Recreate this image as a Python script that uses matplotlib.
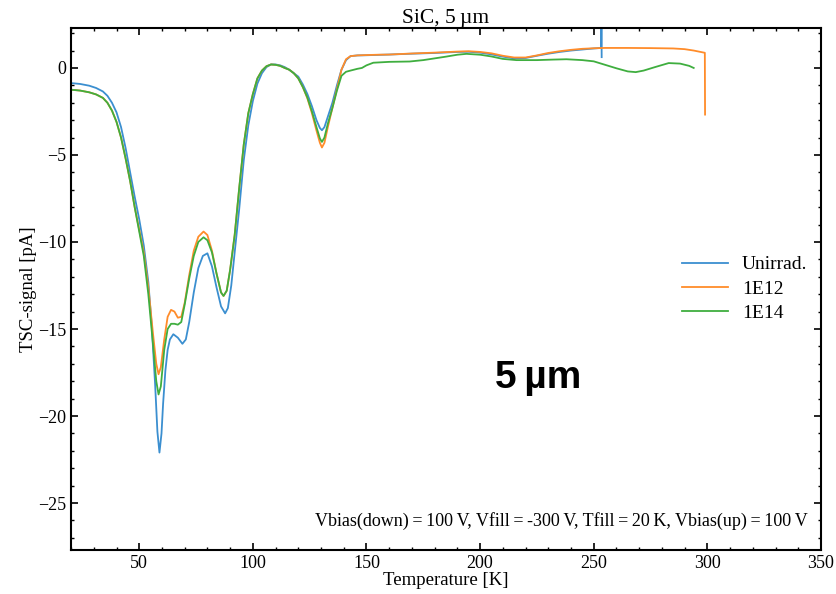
import matplotlib
matplotlib.use("Agg")
import matplotlib.pyplot as plt
from matplotlib.ticker import MultipleLocator

plt.rcParams["font.family"] = ["Liberation Serif", "DejaVu Serif"]
plt.rcParams["mathtext.fontset"] = "stix"

# Unirrad.
t_unirr = [20, 24, 28, 31, 34, 36, 38, 40, 42, 44, 46, 48, 50, 52, 54, 55.5, 57, 58, 58.9, 59.8, 60.5, 61.5, 62.5,
           63.5, 65, 67, 69, 70.5, 72, 74, 76, 78, 80, 82, 84, 86, 87.8, 89, 90.5, 92, 94, 96, 98, 100, 102, 104,
           106, 108, 110, 112, 114, 116, 118, 120, 122, 124, 126, 128, 129.5, 130.4, 131.5, 133, 135, 137, 139,
           141, 143, 146, 150, 155, 160, 170, 180, 190, 195, 200, 205, 210, 215, 220, 225, 230, 235, 240, 245,
           250, 253.3, 253.4, 253.5]
s_unirr = [-0.87, -0.92, -1.02, -1.15, -1.35, -1.6, -2.0, -2.55, -3.4, -4.6, -6.0, -7.4, -8.7, -10.2, -12.3, -14.8,
           -18.2, -20.9, -22.1, -21.0, -19.3, -17.4, -16.2, -15.6, -15.3, -15.5, -15.85, -15.6, -14.6, -12.9,
           -11.5, -10.8, -10.65, -11.4, -12.6, -13.7, -14.1, -13.8, -12.5, -10.6, -8.1, -5.3, -3.3, -1.9, -0.9,
           -0.3, 0.05, 0.2, 0.2, 0.15, 0.05, -0.1, -0.3, -0.5, -0.95, -1.5, -2.2, -3.0, -3.45, -3.58, -3.4, -2.8,
           -2.0, -1.0, -0.1, 0.45, 0.68, 0.72, 0.73, 0.75, 0.77, 0.82, 0.86, 0.92, 0.93, 0.88, 0.78, 0.65, 0.55,
           0.57, 0.7, 0.82, 0.92, 1.0, 1.06, 1.12, 1.15, 3.0, 0.62]

# 1E12
t_1e12 = [20, 24, 28, 31, 34, 36, 38, 40, 42, 44, 46, 48, 50, 52, 54, 56, 57.5, 58.5, 59.5, 61, 62.5, 64, 65.5, 67,
          68.5, 70, 72, 74, 76, 78.3, 80, 82, 84, 86, 87.1, 88.5, 90, 92, 94, 96, 98, 100, 102, 104, 106, 108, 110,
          112, 114, 116, 118, 120, 122, 124, 126, 128, 129.5, 130.4, 131.5, 133, 135, 137, 139, 141, 143, 146,
          150, 155, 160, 170, 180, 190, 195, 200, 205, 210, 215, 220, 225, 230, 235, 240, 245, 250, 255, 265,
          275, 285, 290, 294, 298.9, 299.0]
s_1e12 = [-1.25, -1.3, -1.4, -1.52, -1.72, -2.0, -2.45, -3.1, -4.0, -5.2, -6.5, -8.0, -9.3, -10.6, -12.6, -15.2,
          -17.0, -17.6, -17.2, -15.6, -14.3, -13.9, -14.0, -14.35, -14.3, -13.5, -11.9, -10.5, -9.7, -9.4, -9.6,
          -10.5, -11.8, -12.9, -13.1, -12.8, -11.6, -9.6, -6.9, -4.4, -2.6, -1.5, -0.6, -0.15, 0.1, 0.2, 0.18,
          0.12, 0.0, -0.1, -0.3, -0.6, -1.1, -1.75, -2.6, -3.6, -4.3, -4.57, -4.3, -3.4, -2.3, -1.2, -0.1, 0.5,
          0.68, 0.72, 0.74, 0.76, 0.77, 0.83, 0.88, 0.94, 0.96, 0.92, 0.84, 0.7, 0.6, 0.6, 0.72, 0.86, 0.96,
          1.04, 1.1, 1.13, 1.15, 1.15, 1.14, 1.12, 1.08, 1.0, 0.87, -2.68]

# 1E14
t_1e14 = [20, 24, 28, 31, 34, 36, 38, 40, 42, 44, 46, 48, 50, 52, 54, 56, 57.5, 58.5, 59.5, 61, 62.5, 64, 65.5, 67,
          68.5, 70, 72, 74, 76, 78.3, 80, 82, 84, 86, 87.1, 88.5, 90, 92, 94, 96, 98, 100, 102, 104, 106, 108, 110,
          112, 114, 116, 118, 120, 122, 124, 126, 128, 129.5, 130.4, 131.5, 133, 135, 137, 139, 141, 143, 146,
          148, 150, 153, 160, 169, 175, 180, 185, 190, 194, 200, 205, 210, 216, 225, 232, 238, 245, 250, 255,
          260, 265, 268.5, 272, 277, 283, 288, 292, 294]
s_1e14 = [-1.25, -1.3, -1.4, -1.52, -1.72, -2.0, -2.45, -3.1, -4.0, -5.2, -6.5, -8.0, -9.4, -10.8, -13.0, -15.8,
          -18.0, -18.76, -18.3, -16.2, -15.0, -14.7, -14.7, -14.75, -14.6, -13.6, -12.1, -10.8, -10.0, -9.73,
          -9.9, -10.6, -11.8, -12.9, -13.1, -12.8, -11.6, -9.6, -6.9, -4.4, -2.6, -1.5, -0.6, -0.15, 0.1, 0.2,
          0.18, 0.12, 0.0, -0.1, -0.3, -0.6, -1.1, -1.7, -2.5, -3.4, -4.05, -4.25, -4.0, -3.2, -2.3, -1.3, -0.45,
          -0.22, -0.15, -0.05, 0.0, 0.15, 0.3, 0.35, 0.37, 0.45, 0.55, 0.65, 0.76, 0.81, 0.76, 0.66, 0.52, 0.45,
          0.45, 0.48, 0.5, 0.45, 0.38, 0.18, -0.02, -0.2, -0.24, -0.15, 0.05, 0.28, 0.25, 0.12, 0.0]

series = [("Unirrad.", t_unirr, s_unirr, "#3b8fd0"),
          ("1E12", t_1e12, s_1e12, "#ff8c2a"),
          ("1E14", t_1e14, s_1e14, "#3fae3f")]

fig = plt.figure(figsize=(8.36, 5.94), dpi=100)
ax = fig.add_axes([0.085, 0.074, 0.897, 0.879])

for label, t, s, c in series:
    ax.plot(t, s, color=c, lw=1.3, label=label)

ax.set_xlim(20, 350)
ax.set_ylim(-27.7, 2.3)
ax.xaxis.set_major_locator(MultipleLocator(50))
ax.xaxis.set_minor_locator(MultipleLocator(10))
ax.yaxis.set_major_locator(MultipleLocator(5))
ax.yaxis.set_minor_locator(MultipleLocator(1))
ax.tick_params(which="both", direction="in", top=True, right=True, labelsize=13)
ax.tick_params(which="major", length=5, width=1.2)
ax.tick_params(which="minor", length=2.5, width=1.0)
for sp in ax.spines.values():
    sp.set_linewidth(1.5)

ax.set_xlabel("Temperature [K]", fontsize=13.5, labelpad=0)
ax.set_ylabel("TSC-signal [pA]", fontsize=13.5, labelpad=1)
ax.set_title("SiC, 5\u2009\u00b5m", fontsize=15.5, pad=3)

ax.legend(loc="center right", bbox_to_anchor=(1.005, 0.50), frameon=False, fontsize=14,
          handlelength=2.4, handletextpad=0.7, labelspacing=0.35)

ax.text(0.983, 0.056, "Vbias(down)\u2009=\u2009100\u2009V, Vfill\u2009=\u2009-300\u2009V, "
        "Tfill\u2009=\u200920\u2009K, Vbias(up)\u2009=\u2009100\u2009V",
        transform=ax.transAxes, ha="right", va="center", fontsize=13)
ax.text(225.5, -17.8, "5\u2009\u00b5m", ha="center", va="center", fontsize=28, fontweight="bold",
        family=["Liberation Sans", "DejaVu Sans"])

fig.savefig("out.png", dpi=100)
